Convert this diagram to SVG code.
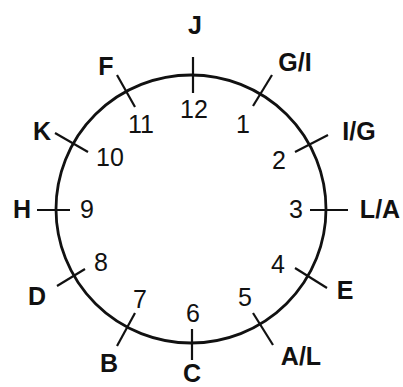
<svg xmlns="http://www.w3.org/2000/svg" width="403" height="387" viewBox="0 0 403 387">
<style>
.ring{fill:none;stroke:#111;stroke-width:2.8}
.tick{stroke:#111;stroke-width:2.2}
.lab{font-family:"Liberation Sans",Arial,sans-serif;font-weight:bold;font-size:25px;fill:#111;text-anchor:middle}
.num{font-family:"Liberation Sans",Arial,sans-serif;font-size:25px;fill:#111;text-anchor:middle}
</style>
<rect width="403" height="387" fill="#fff"/>
<g id="dial">
<ellipse class="ring" cx="191" cy="209" rx="135" ry="134"/>
</g>
<g id="ticks">
<line class="tick" x1="193" y1="57" x2="193" y2="93"/>
<line class="tick" x1="272" y1="75" x2="253" y2="106"/>
<line class="tick" x1="328" y1="135" x2="295" y2="152"/>
<line class="tick" x1="310" y1="210" x2="348" y2="210"/>
<line class="tick" x1="295" y1="268" x2="327" y2="288"/>
<line class="tick" x1="253" y1="313" x2="273" y2="345"/>
<line class="tick" x1="192" y1="329" x2="192" y2="360"/>
<line class="tick" x1="135" y1="313" x2="117" y2="346"/>
<line class="tick" x1="85" y1="269" x2="57" y2="286"/>
<line class="tick" x1="37" y1="210" x2="70" y2="210"/>
<line class="tick" x1="55" y1="133" x2="88" y2="152"/>
<line class="tick" x1="117" y1="75" x2="135" y2="107"/>
</g>
<g id="hours">
<text class="num" x="194" y="118">12</text>
<text class="num" x="243" y="133">1</text>
<text class="num" x="279" y="169">2</text>
<text class="num" x="296" y="218">3</text>
<text class="num" x="278" y="273">4</text>
<text class="num" x="245" y="306">5</text>
<text class="num" x="193" y="322">6</text>
<text class="num" x="140" y="308">7</text>
<text class="num" x="101" y="271">8</text>
<text class="num" x="87" y="218">9</text>
<text class="num" x="110" y="166">10</text>
<text class="num" x="141" y="133">11</text>
</g>
<g id="labels">
<text class="lab" x="195" y="34">J</text>
<text class="lab" x="295" y="71">G/I</text>
<text class="lab" x="359" y="140">I/G</text>
<text class="lab" x="380" y="218">L/A</text>
<text class="lab" x="345" y="299">E</text>
<text class="lab" x="301" y="365">A/L</text>
<text class="lab" x="192" y="382">C</text>
<text class="lab" x="109" y="372">B</text>
<text class="lab" x="37" y="305">D</text>
<text class="lab" x="22" y="218">H</text>
<text class="lab" x="42" y="140">K</text>
<text class="lab" x="106" y="75">F</text>
</g>
</svg>
